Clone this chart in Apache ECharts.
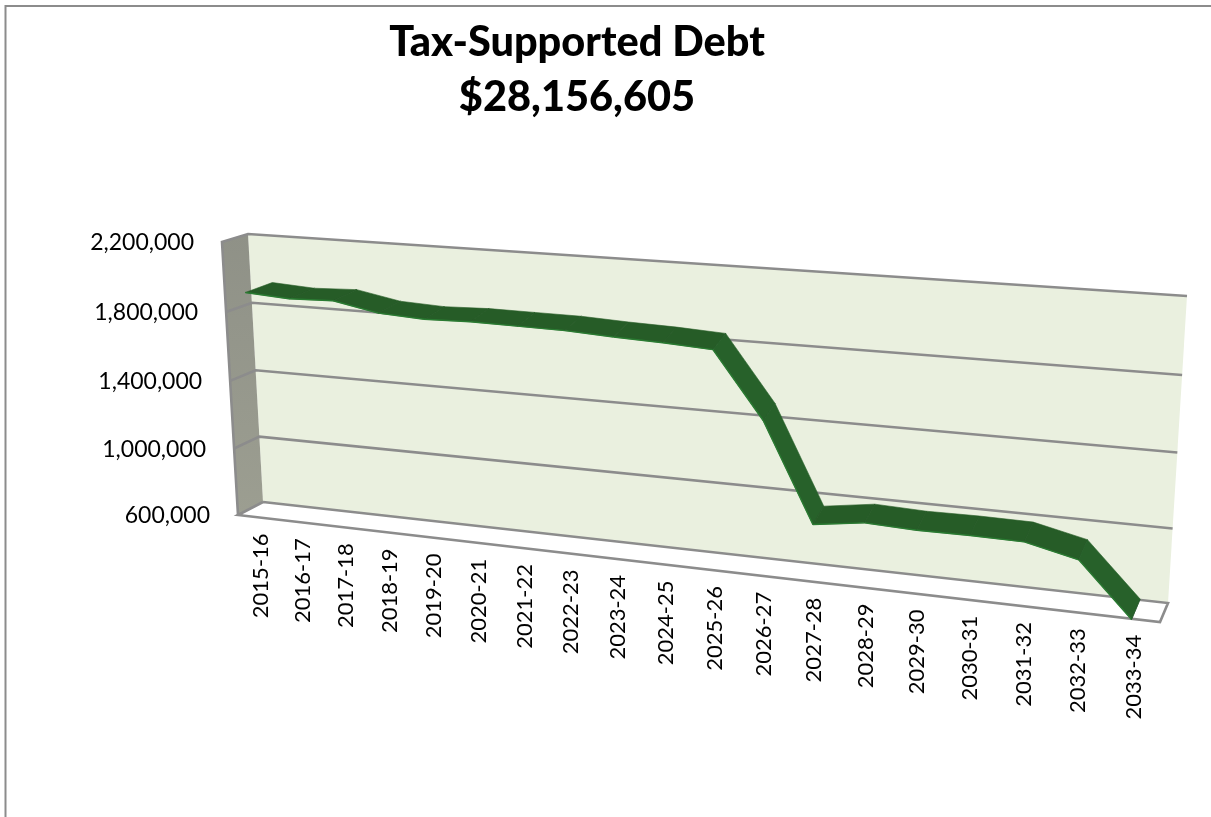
<!DOCTYPE html>
<html>
<head>
<meta charset="utf-8">
<title>Tax-Supported Debt</title>
<style>html,body{margin:0;padding:0;background:#fff}#chart{width:1211px;height:817px}</style>
<script src="https://cdn.jsdelivr.net/npm/echarts@6/dist/echarts.min.js"></script>
</head>
<body>
<div id="chart"></div>
<script>
// Annual debt service by fiscal year
const categories = ['2015-16','2016-17','2017-18','2018-19','2019-20','2020-21','2021-22','2022-23','2023-24','2024-25','2025-26','2026-27','2027-28','2028-29','2029-30','2030-31','2031-32','2032-33','2033-34'];
const debtService = [1925000,1910000,1920000,1872000,1860000,1868000,1866000,1864000,1852000,1844000,1830000,1470000,925000,965000,955000,958000,955000,890000,600000];
const yTicks = [600000,1000000,1400000,1800000,2200000];
const yMin = 600000;
const yMax = 2200000;

// Corners of the rear wall and the front plane of the box, as [left-bottom, right-bottom, right-top, left-top]
const rearPlane = [[263,502],[1168,603],[1187,296],[248,234]];
const frontPlane = [[238,515],[1160,622],[1179,316],[222,242]];
// Depth range of the ribbon inside the box
const ribbonDepth = [-0.04, 1.04];
// Extra foreshortening along the category direction
const foreshorten = 0.972;

const EDGE = '#8C8C8C';
const EDGE_WIDTH = 2.6;
const FONT = 'Lato, "Open Sans", sans-serif';

function squareToQuad(q) {
  const [[x0,y0],[x1,y1],[x2,y2],[x3,y3]] = q;
  const dx1 = x1-x2, dx2 = x3-x2, sx = x0-x1+x2-x3;
  const dy1 = y1-y2, dy2 = y3-y2, sy = y0-y1+y2-y3;
  const den = dx1*dy2-dx2*dy1;
  const g = (sx*dy2-dx2*sy)/den, h = (dx1*sy-sx*dy1)/den;
  const a = x1-x0+g*x1, b = x3-x0+h*x3, d = y1-y0+g*y1, e = y3-y0+h*y3;
  return (u,v) => {
    const w = g*u+h*v+1;
    return [(a*u+b*v+x0)/w, (d*u+e*v+y0)/w];
  };
}
const rear = squareToQuad(rearPlane);
const front = squareToQuad(frontPlane);

// u, v in the unit square, depth 0 at the front plane and 1 at the rear wall
function project(u, v, depth) {
  const f = front(u,v), r = rear(u,v);
  return [f[0]+(r[0]-f[0])*depth, f[1]+(r[1]-f[1])*depth];
}
// Grid pixel position from the axes to unit-square position
function toUnit(params, pt) {
  const c = params.coordSys;
  const t = (pt[0]-c.x)/c.width;
  return [t*foreshorten/(t*foreshorten+1-t), 1-(pt[1]-c.y)/c.height];
}
const poly = (points, fill, extra) => ({type:'polygon', shape:{points}, style:Object.assign({fill, stroke:null}, extra||{}), silent:true});
const line = (points, width, color) => ({type:'polyline', shape:{points}, style:{fill:null, stroke:color||EDGE, lineWidth:width||EDGE_WIDTH}, silent:true});

function renderBox() {
  const box = [
    poly([project(0,0,1),project(1,0,1),project(1,1,1),project(0,1,1)], '#EAF0DF'),
    poly([project(0,0,0),project(0,0,1),project(0,1,1),project(0,1,0)], {
      type:'linear', x:0,y:0,x2:0,y2:1,
      colorStops:[{offset:0,color:'#8F9187'},{offset:1,color:'#9C9E91'}]
    }),
    poly([project(0,0,0),project(1,0,0),project(1,0,1),project(0,0,1)], '#FFFFFF'),
    line([project(0,0,1),project(0,0,0),project(1,0,0),project(1,0,1),project(0,0,1)]),
    line([project(0,0,0),project(0,1,0),project(0,1,1),project(1,1,1)])
  ];
  return {type:'group', children:box};
}
function renderGridLine(params, api) {
  const v = toUnit(params, api.coord([0, api.value(0)]))[1];
  return line([project(0,v,0),project(0,v,1),project(1,v,1)]);
}
function renderSegment(params, api) {
  const i = api.value(0);
  const a = toUnit(params, api.coord([i, api.value(1)]));
  const b = toUnit(params, api.coord([i+1, api.value(2)]));
  const [d0,d1] = ribbonDepth;
  const fa = project(a[0],a[1],d0), fb = project(b[0],b[1],d0);
  const ra = project(a[0],a[1],d1), rb = project(b[0],b[1],d1);
  const falling = Math.abs(fb[1]-fa[1]) > 30;
  const fill = falling ? '#27612A' : '#265C27';
  return {type:'group', children:[
    poly([fa,fb,rb,ra], fill, {stroke:fill, lineWidth:0.6}),
    line([fa,fb], 1.4, '#2A7B32'),
    line([fb,rb], 0.8, '#23532A')
  ]};
}
function renderCategoryLabel(params, api) {
  const i = api.value(0);
  const u = toUnit(params, api.coord([i, yMin]))[0];
  const p = project(u, 0, 0);
  return {type:'text', x:p[0]+2, y:p[1]+16, rotation:Math.PI/2, silent:true,
    style:{text:categories[i], align:'right', verticalAlign:'middle', font:'22px '+FONT, fill:'#000'}};
}
function renderValueLabel(params, api) {
  const value = api.value(0);
  const v = toUnit(params, api.coord([0, value]))[1];
  const p = project(0, v, 0);
  return {type:'text', x:p[0]-28, y:p[1]+1, silent:true,
    style:{text:value.toLocaleString('en-US'), align:'right', verticalAlign:'middle', font:'23px '+FONT, fill:'#000'}};
}

const segments = debtService.slice(0,-1).map((v,i)=>[i, v, debtService[i+1]]);
const base = {type:'custom', coordinateSystem:'cartesian2d', silent:true, animation:false, clip:false};

const chart = echarts.init(document.getElementById('chart'), null, {renderer:'canvas'});
chart.setOption({
  animation:false,
  backgroundColor:'#FFFFFF',
  title:{
    text:'Tax-Supported Debt\n$28,156,605',
    left:572, top:10, textAlign:'center',
    textStyle:{fontFamily:FONT, fontWeight:900, fontSize:41.5, lineHeight:55, color:'#000'}
  },
  grid:{left:100, right:100, top:100, bottom:100},
  xAxis:{type:'category', data:categories, show:false},
  yAxis:{type:'value', min:yMin, max:yMax, show:false},
  graphic:[{type:'rect', shape:{x:5.5,y:6,width:1400,height:1000}, style:{fill:null, stroke:EDGE, lineWidth:2}, silent:true}],
  series:[
    Object.assign({}, base, {name:'Box', data:[[0,yMin]], encode:{x:0,y:1}, renderItem:renderBox}),
    Object.assign({}, base, {name:'Gridlines', data:yTicks.slice(1,-1).map(v=>[v]), encode:{y:0}, renderItem:renderGridLine}),
    Object.assign({}, base, {name:'Debt service', data:segments, encode:{x:0,y:[1,2]}, renderItem:renderSegment}),
    Object.assign({}, base, {name:'Fiscal years', data:categories.map((c,i)=>[i]), encode:{x:0}, renderItem:renderCategoryLabel}),
    Object.assign({}, base, {name:'Amounts', data:yTicks.map(v=>[v]), encode:{y:0}, renderItem:renderValueLabel})
  ]
});
</script>
</body>
</html>
